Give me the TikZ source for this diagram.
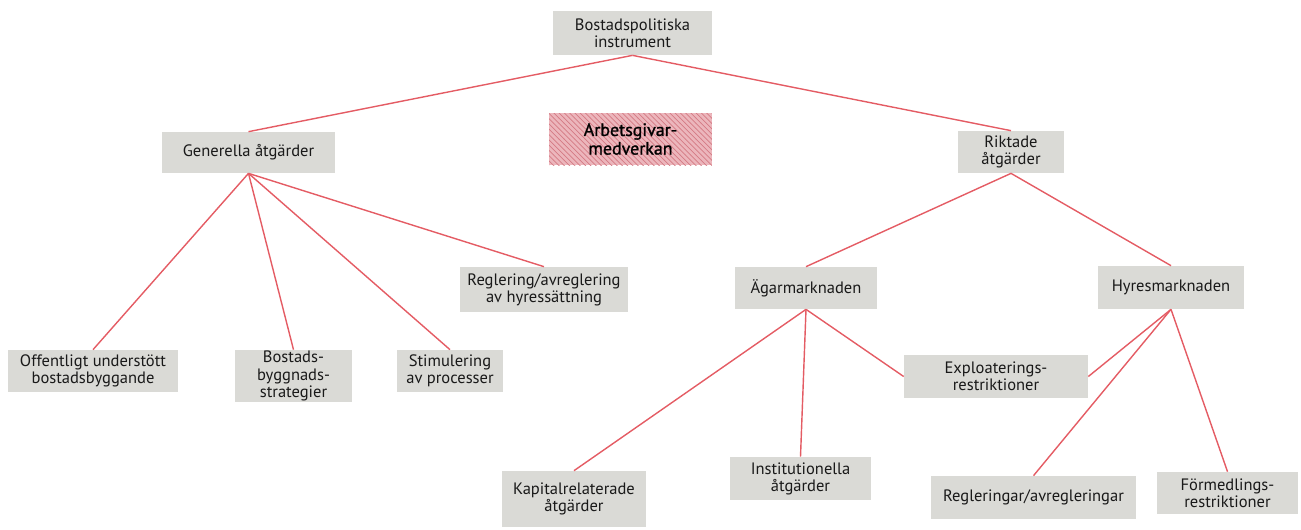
\documentclass[tikz,border=0pt]{standalone}
\usepackage{fontspec}
\setmainfont{PT Sans}
\newfontface\medfont[FakeBold=1.2]{PT Sans}
\usepackage{tikz}
\usetikzlibrary{patterns}

\definecolor{boxgray}{RGB}{218,218,214}
\definecolor{linered}{RGB}{228,92,100}
\definecolor{hatchbg}{RGB}{236,182,188}
\definecolor{hatchfg}{RGB}{212,122,132}

\begin{document}
\begin{tikzpicture}[x=0.02cm, y=-0.02cm,
	box/.style={fill=boxgray, align=center, inner sep=0pt, text=black!90, font=\fontsize{9.4}{9.8}\selectfont},
	link/.style={draw=linered, line width=0.8pt}]
	\useasboundingbox (0, 0) rectangle (1301, 529);
	% top and first level
	\node[box, minimum width=3.18cm, minimum height=0.88cm] (top) at (632.5, 33) {Bostadspolitiska\\instrument};
	\node[align=center, inner sep=0pt, minimum width=3.26cm, minimum height=1.04cm, preaction={fill=hatchbg}, pattern=north west lines, pattern color=hatchfg, font=\medfont\fontsize{10.2}{10.6}\selectfont] (arb) at (630.5, 139) {Arbetsgivar-\\medverkan};
	\node[box, minimum width=3.46cm, minimum height=0.82cm] (gen) at (248.5, 152.5) {Generella åtgärder};
	\node[box, minimum width=2.12cm, minimum height=0.84cm] (rik) at (1011, 152) {Riktade\\åtgärder};
	% second level
	\node[box, minimum width=3.36cm, minimum height=0.9cm] (reg) at (544, 289.5) {Reglering/avreglering\\av hyressättning};
	\node[box, minimum width=2.84cm, minimum height=0.84cm] (aga) at (806, 288) {Ägarmarknaden};
	\node[box, minimum width=2.92cm, minimum height=0.86cm] (hyr) at (1171, 287.5) {Hyresmarknaden};
	\node[box, minimum width=3.4cm, minimum height=0.84cm] (off) at (93, 371) {Offentligt understött\\bostadsbyggande};
	\node[box, minimum width=2.34cm, minimum height=1.04cm] (bos) at (293.5, 376) {Bostads-\\byggnads-\\strategier};
	\node[box, minimum width=2.12cm, minimum height=0.84cm] (sti) at (450, 371) {Stimulering\\av processer};
	\node[box, minimum width=3.68cm, minimum height=0.86cm] (exp) at (996, 376.5) {Exploaterings-\\restriktioner};
	% bottom row
	\node[box, minimum width=2.88cm, minimum height=1.12cm] (kap) at (574, 499) {Kapitalrelaterade\\åtgärder};
	\node[box, minimum width=2.82cm, minimum height=0.86cm] (ins) at (800.5, 478.5) {Institutionella\\åtgärder};
	\node[box, minimum width=4.1cm, minimum height=0.86cm] (rgl) at (1033.5, 497.5) {Regleringar/avregleringar};
	\node[box, minimum width=2.82cm, minimum height=0.84cm] (fmd) at (1227.5, 493) {Förmedlings-\\restriktioner};
	% connectors
	\draw[link] (top.south) -- (gen.north);
	\draw[link] (top.south) -- (rik.north);
	\draw[link] (gen.south) -- (off.north);
	\draw[link] (gen.south) -- (bos.north);
	\draw[link] (gen.south) -- (sti.north);
	\draw[link] (gen.south) -- (reg.north);
	\draw[link] (rik.south) -- (aga.north);
	\draw[link] (rik.south) -- (hyr.north);
	\draw[link] (aga.south) -- (kap.north);
	\draw[link] (aga.south) -- (ins.north);
	\draw[link] (aga.south) -- (exp.west);
	\draw[link] (hyr.south) -- (exp.east);
	\draw[link] (hyr.south) -- (rgl.north);
	\draw[link] (hyr.south) -- (fmd.north);
\end{tikzpicture}
\end{document}
